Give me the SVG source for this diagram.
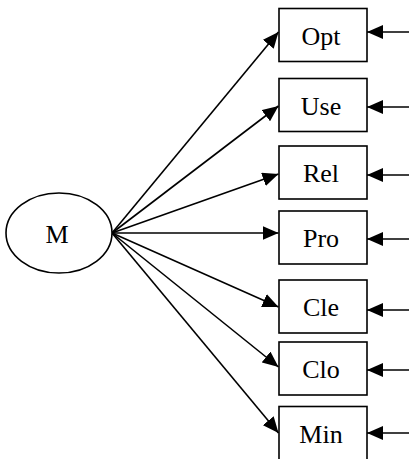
<svg xmlns="http://www.w3.org/2000/svg" width="409" height="459" viewBox="0 0 409 459">
  <style>
    .box { fill: #fff; stroke: #000; stroke-width: 1.6; }
    .lbl { font-family: "Liberation Serif", "Times New Roman", serif; font-size: 26px; fill: #000; text-anchor: middle; dominant-baseline: central; }
    .edge { stroke: #000; stroke-width: 1.6; fill: none; marker-end: url(#arrow); }
  </style>
  <defs>
    <marker id="arrow" markerUnits="userSpaceOnUse" markerWidth="17" markerHeight="14" refX="16" refY="7" orient="auto">
      <path d="M0,0 L16,7 L0,14 z" fill="#000"/>
    </marker>
  </defs>
  <rect width="409" height="459" fill="#fff"/>

  <g id="connectors">
    <!-- paths from M to each indicator -->
    <line class="edge" x1="112" y1="233" x2="278.5" y2="32"/>
    <line class="edge" x1="112" y1="233" x2="278.5" y2="106"/>
    <line class="edge" x1="112" y1="233" x2="278.5" y2="174"/>
    <line class="edge" x1="112" y1="233" x2="278.5" y2="233"/>
    <line class="edge" x1="112" y1="233" x2="278.5" y2="307"/>
    <line class="edge" x1="112" y1="233" x2="278.5" y2="367"/>
    <line class="edge" x1="112" y1="233" x2="278.5" y2="433"/>
    <!-- error terms on the right -->
    <line class="edge" x1="409" y1="32" x2="367" y2="32"/>
    <line class="edge" x1="409" y1="107" x2="367" y2="107"/>
    <line class="edge" x1="409" y1="175" x2="367" y2="175"/>
    <line class="edge" x1="409" y1="239" x2="367" y2="239"/>
    <line class="edge" x1="409" y1="310" x2="367" y2="310"/>
    <line class="edge" x1="409" y1="370" x2="367" y2="370"/>
    <line class="edge" x1="409" y1="433" x2="367" y2="433"/>
  </g>

  <g id="M">
    <ellipse cx="59" cy="233" rx="53" ry="40" fill="#fff" stroke="#000" stroke-width="1.6"/>
    <text class="lbl" x="57" y="234">M</text>
  </g>
  <g id="Opt">
    <rect class="box" x="279" y="8.5" width="88" height="53"/>
    <text class="lbl" x="321" y="36">Opt</text>
  </g>
  <g id="Use">
    <rect class="box" x="279" y="78.5" width="88" height="53"/>
    <text class="lbl" x="321" y="106">Use</text>
  </g>
  <g id="Rel">
    <rect class="box" x="279" y="146" width="88" height="53"/>
    <text class="lbl" x="321" y="173.5">Rel</text>
  </g>
  <g id="Pro">
    <rect class="box" x="279" y="211" width="88" height="53"/>
    <text class="lbl" x="321" y="238.5">Pro</text>
  </g>
  <g id="Cle">
    <rect class="box" x="279" y="280" width="88" height="53"/>
    <text class="lbl" x="321" y="307.5">Cle</text>
  </g>
  <g id="Clo">
    <rect class="box" x="279" y="342" width="88" height="53"/>
    <text class="lbl" x="321" y="369.5">Clo</text>
  </g>
  <g id="Min">
    <rect class="box" x="279" y="406.5" width="88" height="54"/>
    <text class="lbl" x="321" y="434">Min</text>
  </g>
</svg>
